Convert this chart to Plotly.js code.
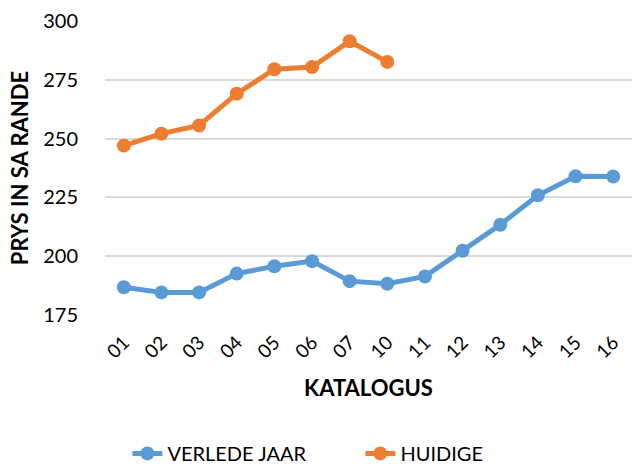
<!DOCTYPE html>
<html>
<head>
<meta charset="utf-8">
<script src="https://cdn.plot.ly/plotly-3.0.1.min.js"></script>
<style>html,body{margin:0;padding:0;background:#fff;}#chart{width:637px;height:466px;}</style>
</head>
<body>
<div id="chart"></div>
<script>
const categories = ["01","02","03","04","05","06","07","10","11","12","13","14","15","16"];
const verledeJaar = [186.8, 184.6, 184.6, 192.6, 195.7, 197.9, 189.4, 188.3, 191.4, 202.3, 213.4, 225.9, 234.0, 233.9];
const huidige = [247.0, 252.1, 255.6, 269.1, 279.5, 280.4, 291.4, 282.6];
const huidigeCats = categories.slice(0, huidige.length);
const yTicks = [175, 200, 225, 250, 275, 300];

const font = "Lato, 'Open Sans', sans-serif";

const traces = [
  {x: categories, y: verledeJaar, name: "VERLEDE JAAR", type: "scatter", mode: "lines+markers",
   line: {color: "#5B9BD5", width: 5}, marker: {color: "#5B9BD5", size: 14}},
  {x: huidigeCats, y: huidige, name: "HUIDIGE", type: "scatter", mode: "lines+markers",
   line: {color: "#ED7D31", width: 5}, marker: {color: "#ED7D31", size: 14}}
];

const layout = {
  width: 637, height: 466,
  margin: {l: 105, r: 5, t: 21, b: 151},
  paper_bgcolor: "#fff", plot_bgcolor: "#fff",
  font: {family: font, color: "#000", size: 20},
  showlegend: true,
  legend: {orientation: "h", x: 0.2, xref: "container", xanchor: "left",
           y: 0.027, yref: "container", yanchor: "middle",
           font: {size: 20, color: "#000"}, tracegroupgap: 0, entrywidth: 188},
  xaxis: {
    type: "category", categoryorder: "array", categoryarray: categories,
    range: [-0.5, categories.length - 0.5],
    tickangle: -45, ticks: "outside", ticklen: 8, tickcolor: "rgba(0,0,0,0)",
    showgrid: false, zeroline: false, showline: false,
    tickfont: {size: 19, color: "#000"},
    title: {text: "<b>KATALOGUS</b>", font: {size: 22, color: "#000"}, standoff: 19},
    automargin: false
  },
  yaxis: {
    range: [175, 300], tickvals: yTicks, ticktext: yTicks.map(String),
    ticks: "outside", ticklen: 22, tickcolor: "rgba(0,0,0,0)",
    showgrid: true, gridcolor: "#D9D9D9", gridwidth: 2, zeroline: false, showline: false,
    tickfont: {size: 20, color: "#000"},
    title: {text: "<b>PRYS IN SA RANDE</b>", font: {size: 22, color: "#000"}, standoff: 8},
    automargin: false
  }
};

Plotly.newPlot("chart", traces, layout, {staticPlot: true, displayModeBar: false});
</script>
</body>
</html>
